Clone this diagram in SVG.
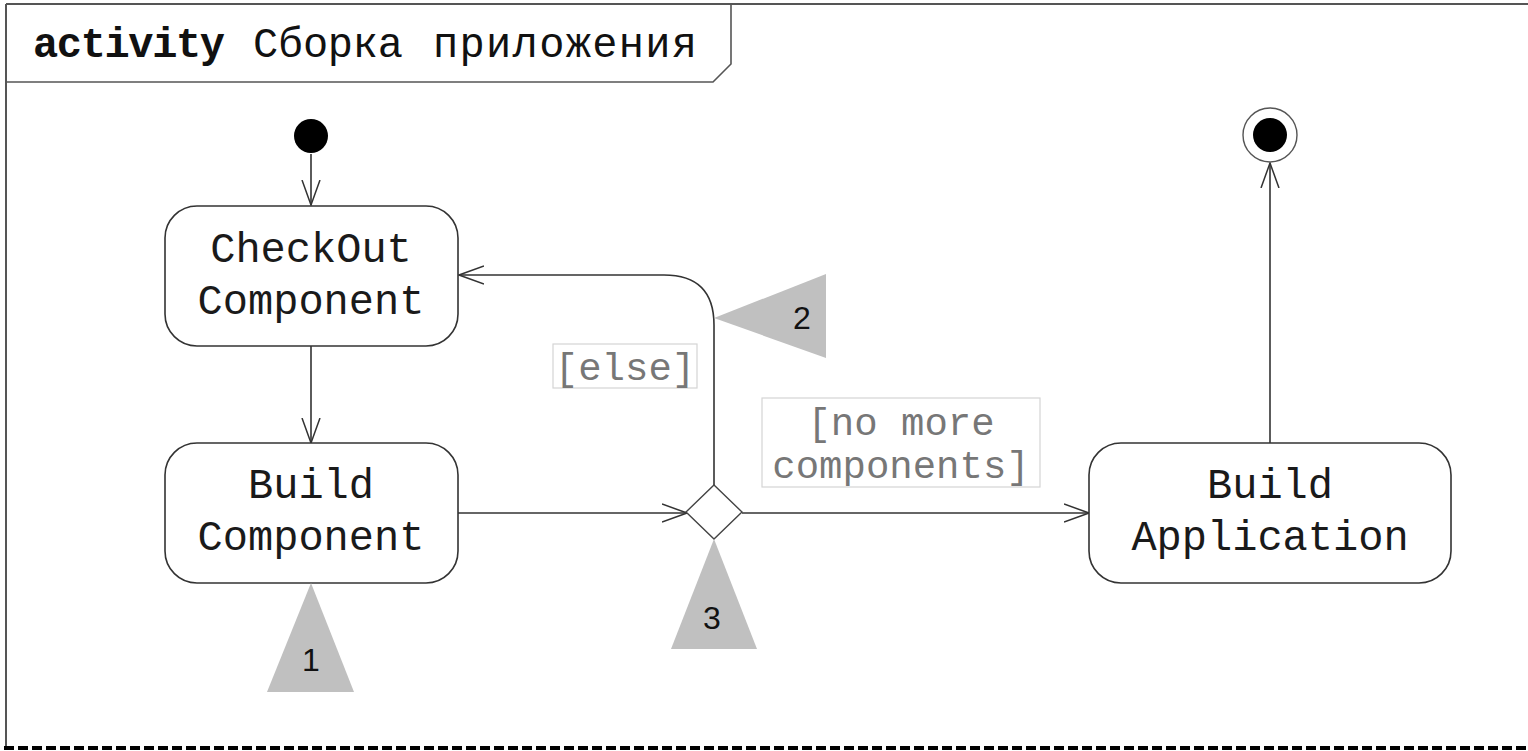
<svg xmlns="http://www.w3.org/2000/svg" width="1528" height="751" viewBox="0 0 1528 751">
<style>
.node{fill:#fff;stroke:#333;stroke-width:1.6}
.lbl{font-family:"Liberation Mono","DejaVu Sans Mono",monospace;font-size:42px;fill:#1a1a1a;text-anchor:middle}
.guard{font-family:"Liberation Mono","DejaVu Sans Mono",monospace;font-size:39px;fill:#777;text-anchor:middle}
.gbox{fill:#fff;stroke:#d4d4d4;stroke-width:1.2}
.tri{fill:#c0c0c0;stroke:none}
.num{font-family:"Liberation Sans",Arial,sans-serif;font-size:32px;fill:#111;text-anchor:middle}
.edge{fill:none;stroke:#333;stroke-width:1.6}
</style>
<defs>
<marker id="arr" markerUnits="userSpaceOnUse" viewBox="0 0 26 20" markerWidth="26" markerHeight="20" refX="25" refY="10" orient="auto">
<path d="M0,1 L25,10 L0,19" fill="none" stroke="#333" stroke-width="1.5"/>
</marker>
</defs>
<rect width="1528" height="751" fill="#fff"/>
<g id="frame">
<line x1="6" y1="4" x2="1528" y2="4" stroke="#555" stroke-width="2"/>
<line x1="6" y1="4" x2="6" y2="748" stroke="#555" stroke-width="2"/>
<path d="M6,82 H713 L731,64 V4" fill="none" stroke="#555" stroke-width="1.6"/>
<line x1="4" y1="748" x2="1528" y2="748" stroke="#000" stroke-width="4" stroke-dasharray="10 4"/>
<text y="57" font-family="Liberation Mono,DejaVu Sans Mono,monospace" font-size="42" fill="#111"><tspan x="33" font-weight="bold" textLength="192">activity</tspan><tspan x="253" textLength="150">Сборка</tspan><tspan x="433" textLength="264">приложения</tspan></text>
</g>
<g id="connectors">
<line class="edge" x1="311" y1="154" x2="311" y2="205" marker-end="url(#arr)"/>
<line class="edge" x1="311" y1="346" x2="311" y2="443" marker-end="url(#arr)"/>
<line class="edge" x1="458" y1="513" x2="687" y2="513" marker-end="url(#arr)"/>
<path class="edge" d="M714,486 V325 Q714,275 664,275 H459" marker-end="url(#arr)"/>
<line class="edge" x1="742" y1="513" x2="1089" y2="513" marker-end="url(#arr)"/>
<line class="edge" x1="1270" y1="443" x2="1270" y2="163" marker-end="url(#arr)"/>
<g id="guard-else">
<rect class="gbox" x="553" y="344" width="144" height="44"/>
<text class="guard" x="625" y="380">[else]</text>
</g>
<g id="guard-nomore">
<rect class="gbox" x="762" y="398" width="278" height="89"/>
<text class="guard" x="901" y="435">[no more</text>
<text class="guard" x="901" y="478">components]</text>
</g>
</g>
<g id="initial">
<circle cx="311" cy="136" r="17" fill="#000"/>
</g>
<g id="checkout">
<rect class="node" x="165" y="206" width="293" height="140" rx="32" ry="32"/>
<text class="lbl" x="311" y="262">CheckOut</text>
<text class="lbl" x="311" y="314">Component</text>
</g>
<g id="buildcomp">
<rect class="node" x="165" y="443" width="293" height="140" rx="32" ry="32"/>
<text class="lbl" x="311" y="498">Build</text>
<text class="lbl" x="311" y="550">Component</text>
</g>
<g id="decision">
<polygon points="714,485 742,512 714,539 686,512" fill="#fff" stroke="#444" stroke-width="1.4"/>
</g>
<g id="buildapp">
<rect class="node" x="1089" y="443" width="362" height="140" rx="32" ry="32"/>
<text class="lbl" x="1270" y="498">Build</text>
<text class="lbl" x="1270" y="550">Application</text>
</g>
<g id="final">
<circle cx="1270" cy="135" r="27" fill="#fff" stroke="#555" stroke-width="1.4"/>
<circle cx="1270" cy="135" r="17" fill="#000"/>
</g>
<g id="marker1">
<polygon class="tri" points="311,583 354,692 267,692"/>
<text class="num" x="311" y="671">1</text>
</g>
<g id="marker2">
<polygon class="tri" points="714,318 826,274 826,358"/>
<text class="num" x="802" y="329">2</text>
</g>
<g id="marker3">
<polygon class="tri" points="714,539 757,649 671,649"/>
<text class="num" x="712" y="629">3</text>
</g>
</svg>
